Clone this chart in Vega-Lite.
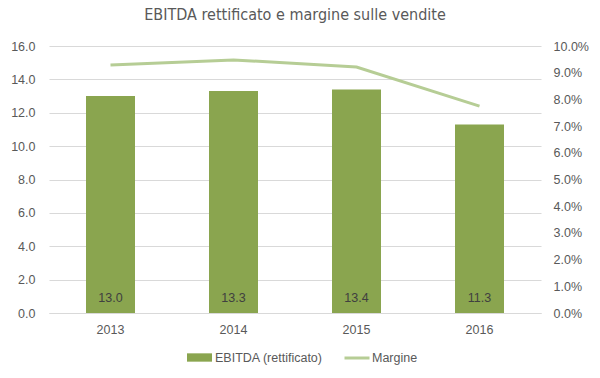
{
  "$schema": "https://vega.github.io/schema/vega-lite/v6.json",
  "width": 492,
  "height": 267,
  "autosize": {"type": "none"},
  "padding": {"left": 49, "top": 46, "right": 59, "bottom": 65},
  "background": "white",
  "config": {
    "view": {"stroke": null},
    "font": "Liberation Sans",
    "axis": {"labelFont": "Liberation Sans", "labelFontSize": 12.5, "labelColor": "#595959", "ticks": false, "domain": false, "gridColor": "#d9d9d9", "title": null, "labelOverlap": false},
    "legend": {"labelFont": "Liberation Sans", "labelFontSize": 12.5, "labelColor": "#595959"}
  },
  "title": {"text": "EBITDA rettificato e margine sulle vendite", "fontSize": 16, "font": "'DejaVu Sans Condensed', 'Liberation Sans'", "fontWeight": "normal", "color": "#595959", "offset": 17},
  "data": {"values": [
    {"anno": "2013", "ebitda": 13.0, "margine": 0.0929},
    {"anno": "2014", "ebitda": 13.3, "margine": 0.0948},
    {"anno": "2015", "ebitda": 13.4, "margine": 0.0921},
    {"anno": "2016", "ebitda": 11.3, "margine": 0.0775}
  ]},
  "encoding": {
    "x": {"field": "anno", "type": "nominal", "scale": {"paddingInner": 0, "paddingOuter": 0}, "axis": {"labelAngle": 0, "domain": true, "domainColor": "#d9d9d9", "labelPadding": 10, "grid": false}}
  },
  "layer": [
    {
      "layer": [
        {
          "mark": {"type": "bar", "size": 49},
          "encoding": {
            "y": {"field": "ebitda", "type": "quantitative", "scale": {"domain": [0, 16], "nice": false}, "axis": {"values": [0, 2, 4, 6, 8, 10, 12, 14, 16], "tickCount": 9, "format": ".1f", "grid": true, "labelPadding": 14, "labelOverlap": false}},
            "fill": {"datum": "EBITDA (rettificato)", "type": "nominal", "scale": {"range": ["#8aa54f"]}, "legend": {"title": null, "orient": "none", "legendX": 141, "legendY": 302, "symbolType": "M-1.5,-0.5H1.5V0.5H-1.5Z", "symbolSize": 278, "labelOffset": 6}}
          }
        },
        {
          "mark": {"type": "text", "baseline": "middle", "dy": -15, "fontSize": 12.5, "color": "#404040", "font": "Liberation Sans"},
          "encoding": {
            "y": {"datum": 0, "type": "quantitative", "axis": {"values": [0, 2, 4, 6, 8, 10, 12, 14, 16], "tickCount": 9, "format": ".1f", "grid": true, "labelPadding": 14, "labelOverlap": false}},
            "text": {"field": "ebitda", "type": "quantitative", "format": ".1f"}
          }
        }
      ]
    },
    {
      "mark": {"type": "line", "strokeWidth": 3},
      "encoding": {
        "y": {"field": "margine", "type": "quantitative", "scale": {"domain": [0, 0.1]}, "axis": {"orient": "right", "values": [0, 0.01, 0.02, 0.03, 0.04, 0.05, 0.06, 0.07, 0.08, 0.09, 0.1], "format": ".1%", "grid": false, "labelPadding": 12}},
        "stroke": {"datum": "Margine", "type": "nominal", "scale": {"range": ["#b6cd95"]}, "legend": {"title": null, "orient": "none", "legendX": 294, "legendY": 298, "symbolType": "stroke", "symbolStrokeWidth": 3, "symbolSize": 625, "labelOffset": 1}}
      }
    }
  ],
  "resolve": {"scale": {"y": "independent", "fill": "independent", "stroke": "independent"}}
}
